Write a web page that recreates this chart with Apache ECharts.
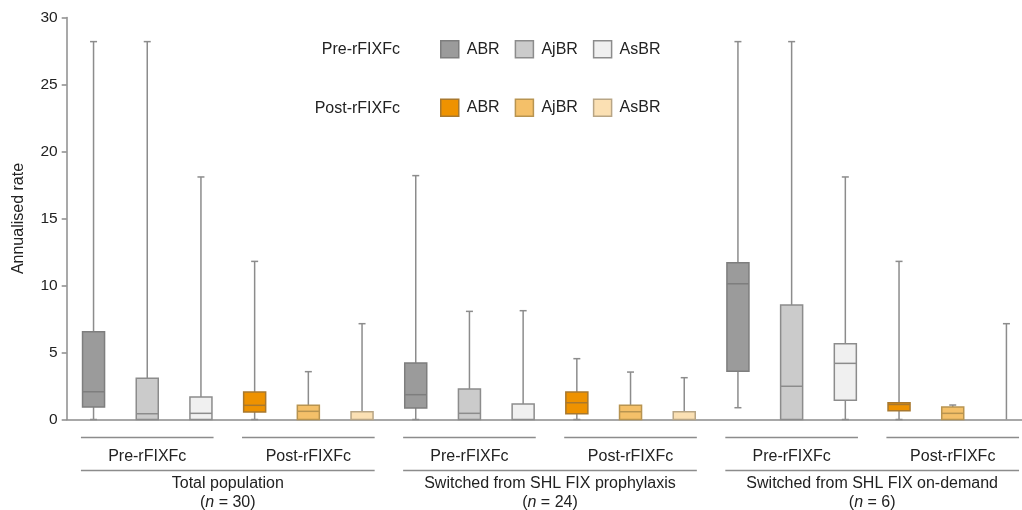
<!DOCTYPE html>
<html>
<head>
<meta charset="utf-8">
<script src="https://cdn.jsdelivr.net/npm/echarts@6/dist/echarts.min.js"></script>
<style>
  html, body { margin: 0; padding: 0; background: #fff; }
  #chart { width: 1022px; height: 510px; }
</style>
</head>
<body>
<div id="chart"></div>
<script>
// ---- data ----
const groups = ['Total population', 'Switched from SHL FIX prophylaxis', 'Switched from SHL FIX on-demand'];
const groupN = [30, 24, 6];
const periods = ['Pre-rFIXFc', 'Post-rFIXFc'];
const measures = ['ABR', 'AjBR', 'AsBR'];
const yTicks = [0, 5, 10, 15, 20, 25, 30];

// [min, Q1, median, Q3, max] for each group
const preABR   = [[0, 0.93, 2.07, 6.55, 28.2], [0, 0.86, 1.85, 4.22, 18.2], [0.88, 3.6, 10.13, 11.7, 28.2]];
const preAjBR  = [[0, 0, 0.43, 3.07, 28.2], [0, 0, 0.46, 2.28, 8.07], [0, 0, 2.48, 8.54, 28.2]];
const preAsBR  = [[0, 0, 0.46, 1.68, 18.1], [0, 0, 0, 1.16, 8.12], [0, 1.43, 4.19, 5.66, 18.1]];
const postABR  = [[0, 0.56, 1.06, 2.05, 11.8], [0, 0.43, 1.25, 2.05, 4.54], [0, 0.66, 1.12, 1.25, 11.8]];
const postAjBR = [[0, 0, 0.61, 1.06, 3.57], [0, 0, 0.58, 1.06, 3.54], [0, 0, 0.46, 0.93, 1.08]];
const postAsBR = [[0, 0, 0, 0.58, 7.15], [0, 0, 0, 0.58, 3.12], [0, 0, 0, 0, 7.15]];

const seriesData = [
  [preABR, preAjBR, preAsBR],
  [postABR, postAjBR, postAsBR]
];
const fills = [
  ['#9b9b9b', '#cbcbcb', '#f0f0f0'],
  ['#ee9200', '#f4c069', '#fbe0b3']
];
const strokes = [
  ['#7e7e7e', '#8c8c8c', '#8c8c8c'],
  ['#a8782e', '#b89450', '#b8a585']
];

// ---- build ----
const FONT = 'Liberation Sans, Arial, Helvetica, sans-serif';
const TXT = '#222';
const AX = '#8c8c8c';

// 18 box positions: group × period × measure
const categories = [];
groups.forEach(g => periods.forEach(p => measures.forEach(m => categories.push(g + ' | ' + p + ' | ' + m))));

function boxRender(params, api) {
  const x = api.value(0);
  const pMin = api.coord([x, api.value(1)]);
  const pQ1 = api.coord([x, api.value(2)]);
  const pMed = api.coord([x, api.value(3)]);
  const pQ3 = api.coord([x, api.value(4)]);
  const pMax = api.coord([x, api.value(5)]);
  const bw = api.size([1, 0])[0] * 0.41;
  const cx = pMed[0];
  const st = api.style();
  const wStyle = { stroke: AX, lineWidth: 1.5 };
  const children = [];
  if (pMax[1] < pQ3[1]) {
    children.push({ type: 'line', shape: { x1: cx, y1: pQ3[1], x2: cx, y2: pMax[1] }, style: wStyle });
    children.push({ type: 'line', shape: { x1: cx - 3.5, y1: pMax[1], x2: cx + 3.5, y2: pMax[1] }, style: wStyle });
  }
  if (pMin[1] > pQ1[1]) {
    children.push({ type: 'line', shape: { x1: cx, y1: pQ1[1], x2: cx, y2: pMin[1] }, style: wStyle });
    children.push({ type: 'line', shape: { x1: cx - 3.5, y1: pMin[1], x2: cx + 3.5, y2: pMin[1] }, style: wStyle });
  }
  if (pQ1[1] - pQ3[1] > 0.1) {
    children.push({ type: 'rect', shape: { x: cx - bw / 2, y: pQ3[1], width: bw, height: pQ1[1] - pQ3[1] },
      style: { fill: st.fill, stroke: st.stroke, lineWidth: 1.5 } });
    if (pMed[1] < pQ1[1] - 0.5) {
      children.push({ type: 'line', shape: { x1: cx - bw / 2, y1: pMed[1], x2: cx + bw / 2, y2: pMed[1] },
        style: { stroke: st.stroke, lineWidth: 1.5 } });
    }
  }
  return { type: 'group', children };
}

const series = [];
periods.forEach((p, pi) => {
  measures.forEach((m, mi) => {
    const data = seriesData[pi][mi].map((v, gi) => [gi * 6 + pi * 3 + mi].concat(v));
    series.push({
      type: 'custom',
      name: p + ' ' + m,
      renderItem: boxRender,
      dimensions: ['pos', 'min', 'Q1', 'median', 'Q3', 'max'],
      encode: { x: 0, y: [1, 2, 3, 4, 5] },
      itemStyle: { color: fills[pi][mi], borderColor: strokes[pi][mi], borderWidth: 1.5 },
      data: data,
      silent: true,
      z: 2
    });
  });
});

// sub brackets (period)
const subBrackets = [];
const subLabels = [];
groups.forEach((g, gi) => periods.forEach((p, pi) => {
  subBrackets.push([gi * 6 + pi * 3, gi * 6 + pi * 3 + 2]);
  subLabels.push(p);
}));
const grpBrackets = groups.map((g, gi) => [gi * 6, gi * 6 + 5]);

series.push({
  type: 'custom',
  name: 'periodBrackets',
  clip: false,
  silent: true,
  encode: { x: [0, 1] },
  data: subBrackets,
  renderItem: function (params, api) {
    const a = api.coord([api.value(0), 0]);
    const b = api.coord([api.value(1), 0]);
    const half = api.size([1, 0])[0] * 0.235;
    const y0 = a[1];
    return {
      type: 'group',
      children: [
        { type: 'line', shape: { x1: a[0] - half, y1: y0 + 18, x2: b[0] + half, y2: y0 + 18 }, style: { stroke: AX, lineWidth: 1.5 } },
        { type: 'text', x: (a[0] + b[0]) / 2, y: y0 + 37,
          style: { text: subLabels[params.dataIndex], fill: TXT, fontSize: 16, fontFamily: FONT,
            align: 'center', verticalAlign: 'middle', textAlign: 'center', textVerticalAlign: 'middle' } }
      ]
    };
  }
});

series.push({
  type: 'custom',
  name: 'groupBrackets',
  clip: false,
  silent: true,
  encode: { x: [0, 1] },
  data: grpBrackets,
  renderItem: function (params, api) {
    const a = api.coord([api.value(0), 0]);
    const b = api.coord([api.value(1), 0]);
    const half = api.size([1, 0])[0] * 0.235;
    const y0 = a[1];
    const i = params.dataIndex;
    const cx = (a[0] + b[0]) / 2;
    return {
      type: 'group',
      children: [
        { type: 'line', shape: { x1: a[0] - half, y1: y0 + 51, x2: b[0] + half, y2: y0 + 51 }, style: { stroke: AX, lineWidth: 1.5 } },
        { type: 'text', x: cx, y: y0 + 64,
          style: { text: groups[i], fill: TXT, fontSize: 16, fontFamily: FONT,
            align: 'center', verticalAlign: 'middle', textAlign: 'center', textVerticalAlign: 'middle' } },
        { type: 'text', x: cx, y: y0 + 83,
          style: { text: '({i|n} = ' + groupN[i] + ')', fill: TXT, fontSize: 16, fontFamily: FONT,
            rich: { i: { fontStyle: 'italic', fontSize: 16, fontFamily: FONT, fill: TXT } },
            align: 'center', verticalAlign: 'middle', textAlign: 'center', textVerticalAlign: 'middle' } }
      ]
    };
  }
});

const legendBase = {
  left: 440,
  itemWidth: 18,
  itemHeight: 17,
  itemGap: 15,
  icon: 'rect',
  padding: 0,
  selectedMode: false,
  itemStyle: { borderWidth: 1.5 },
  formatter: n => n.split(' ')[1],
  textStyle: { fontSize: 16, color: TXT, fontFamily: FONT, padding: [0, 0, 0, 3] }
};

const option = {
  animation: false,
  backgroundColor: '#fff',
  textStyle: { fontFamily: FONT },
  grid: { left: 66.7, top: 17.5, bottom: 90.5, right: 0, containLabel: false },
  legend: [
    Object.assign({}, legendBase, { top: 40, data: measures.map(m => periods[0] + ' ' + m) }),
    Object.assign({}, legendBase, { top: 98.5, data: measures.map(m => periods[1] + ' ' + m) })
  ],
  graphic: [
    { type: 'text', right: 1022 - 400, top: 42, style: { text: periods[0], fill: TXT, fontSize: 16, fontFamily: FONT } },
    { type: 'text', right: 1022 - 400, top: 100.5, style: { text: periods[1], fill: TXT, fontSize: 16, fontFamily: FONT } }
  ],
  xAxis: {
    type: 'value',
    min: -0.5,
    max: 17.29,
    axisLine: { show: true, onZero: false, lineStyle: { color: AX, width: 1.5 } },
    axisTick: { show: false },
    axisLabel: { show: false },
    splitLine: { show: false }
  },
  yAxis: {
    type: 'value',
    min: yTicks[0],
    max: yTicks[yTicks.length - 1],
    interval: 5,
    name: 'Annualised rate',
    nameLocation: 'middle',
    nameGap: 40,
    nameTextStyle: { fontSize: 16, color: TXT, fontFamily: FONT },
    axisLine: { show: true, onZero: false, lineStyle: { color: AX, width: 1.5 } },
    axisTick: { show: true, length: 5, lineStyle: { color: AX, width: 1.5 } },
    axisLabel: { fontSize: 15.5, color: TXT, margin: 9, fontFamily: FONT },
    splitLine: { show: false }
  },
  series: series
};

const chart = echarts.init(document.getElementById('chart'), null, { renderer: 'canvas' });
chart.setOption(option);
</script>
</body>
</html>
